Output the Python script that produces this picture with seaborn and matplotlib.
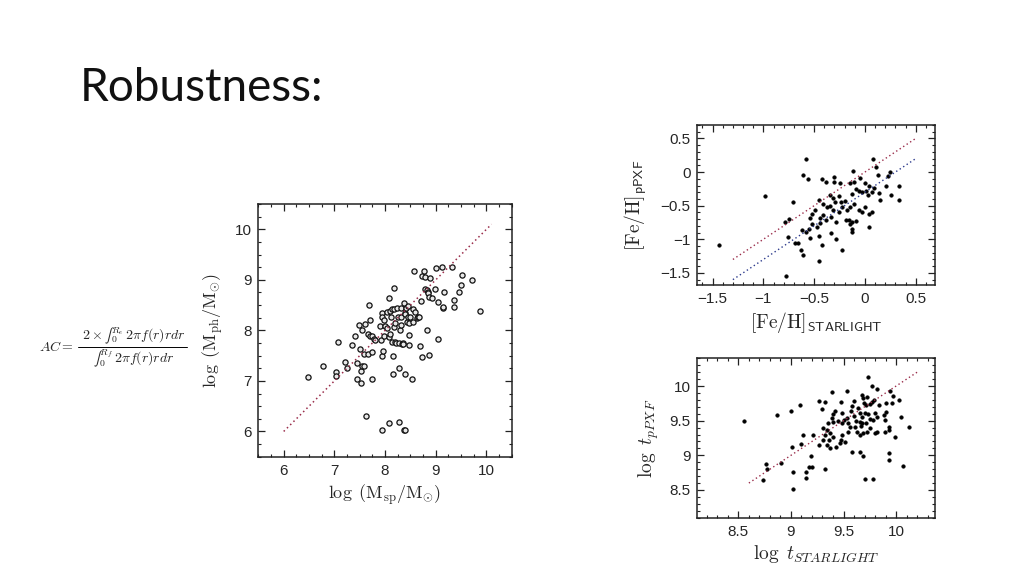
import numpy as np
import pandas as pd
import matplotlib
matplotlib.use("Agg")
import matplotlib.pyplot as plt
from matplotlib.lines import Line2D
from matplotlib.ticker import MultipleLocator
import seaborn as sns

# 왼쪽 패널: 광도(photometric) vs 분광(spectroscopic) 질량
msp = [6.47, 6.78, 7.03, 7.03, 7.08, 7.21, 7.24, 7.34, 7.40, 7.44, 7.44, 7.49, 7.50, 7.52,
       7.53, 7.54, 7.55, 7.58, 7.59, 7.61, 7.66, 7.67, 7.69, 7.70, 7.71, 7.74, 7.74, 7.75,
       7.78, 7.81, 7.63, 7.90, 7.91, 7.93, 7.94, 7.94, 7.95, 7.98, 7.98, 8.00, 8.03, 8.04,
       8.07, 8.08, 8.09, 8.10, 8.12, 8.13, 8.14, 8.15, 8.15, 8.17, 8.18, 8.17, 8.19, 8.20,
       8.21, 8.23, 8.25, 8.27, 8.28, 8.29, 8.31, 8.31, 8.32, 8.34, 8.35, 8.36, 8.37, 8.39,
       8.39, 8.40, 8.42, 8.44, 8.45, 8.46, 8.47, 8.48, 8.48, 8.49, 8.54, 8.56, 8.56, 8.57,
       8.59, 8.62, 8.64, 8.66, 8.69, 8.71, 8.72, 8.73, 8.76, 8.78, 8.79, 8.82, 8.82, 8.84,
       8.85, 8.87, 8.87, 8.89, 8.93, 8.98, 9.00, 9.04, 9.04, 9.13, 9.14, 9.14, 9.17, 9.33,
       9.35, 9.36, 9.46, 9.50, 9.51, 9.72, 9.88, 7.93, 8.08, 8.27, 8.37, 8.39]
mph = [7.07, 7.30, 7.17, 7.10, 7.76, 7.37, 7.25, 7.71, 7.88, 7.36, 7.04, 8.10, 7.63, 7.19,
       6.96, 8.01, 7.29, 7.30, 7.54, 8.13, 7.53, 7.93, 8.50, 7.88, 8.20, 7.04, 7.58, 7.88,
       7.83, 7.80, 6.30, 8.08, 7.80, 7.50, 8.35, 8.27, 7.59, 7.88, 8.21, 8.08, 8.37, 8.05,
       7.86, 8.64, 7.93, 8.38, 8.27, 8.43, 7.77, 7.50, 7.13, 8.83, 8.43, 8.06, 7.77, 8.14,
       7.75, 8.44, 8.27, 7.25, 7.75, 8.01, 8.45, 8.11, 8.27, 7.73, 7.75, 7.74, 8.55, 8.35,
       8.33, 7.13, 8.44, 8.16, 8.27, 8.49, 7.90, 8.14, 7.71, 8.27, 7.04, 8.17, 8.43, 9.18,
       8.37, 8.24, 8.26, 8.26, 7.69, 8.58, 7.48, 9.08, 9.18, 8.82, 9.05, 8.01, 8.79, 8.76,
       8.73, 8.67, 7.52, 9.03, 8.64, 8.82, 9.24, 8.57, 7.83, 9.25, 8.44, 8.47, 8.75, 9.25,
       8.60, 8.47, 8.75, 8.90, 9.10, 8.99, 8.39, 6.02, 6.16, 6.18, 6.02, 6.02]
mass_line = [6.0, 10.1]

# 오른쪽 위: [Fe/H] STARLIGHT vs pPXF
feh_sl = [-1.44, -0.98, -0.78, -0.58, 0.08, 0.11,
          -0.61, -0.557, -0.426, -0.383, -0.305, -0.305, -0.246, -0.121, -0.148, -0.11,
          -0.05, 0.00, 0.04, 0.124, 0.23, 0.25, 0.336, 0.336, -0.71, -0.45, -0.344, -0.31,
          -0.29, -0.26, -0.24, -0.20, -0.13, -0.085, -0.06, -0.03, 0.01, 0.03, 0.07, 0.09,
          0.14, 0.15, 0.21, 0.26, -0.416, -0.377, -0.34, -0.31, -0.26, -0.23, -0.18, -0.15,
          -0.11, -0.06, -0.03, 0.00, 0.04, 0.07, -0.52, -0.49, -0.54, -0.44, -0.41, -0.38,
          -0.33, -0.28, -0.19, -0.16, -0.13, -0.09, -0.15, -0.13, 0.04, -0.79, -0.75, -0.76,
          -0.69, -0.66, -0.62, -0.58, -0.55, -0.52, -0.47, -0.44, -0.54, -0.45, -0.42, -0.33,
          -0.28, -0.23, -0.13, -0.63, -0.61, -0.45]
feh_ppxf = [-1.09, -0.36, -1.55, 0.20, 0.20, 0.08,
            -0.04, -0.11, -0.106, -0.146, -0.07, -0.146, -0.17, 0.018, -0.17, -0.146,
            -0.095, -0.17, -0.21, -0.046, -0.06, 0.00, -0.21, -0.42, -0.44, -0.41, -0.344, -0.38,
            -0.44, -0.36, -0.44, -0.43, -0.33, -0.25, -0.28, -0.30, -0.28, -0.34, -0.30, -0.24,
            -0.31, -0.42, -0.21, -0.34, -0.47, -0.52, -0.50, -0.57, -0.60, -0.52, -0.57, -0.52,
            -0.47, -0.56, -0.60, -0.52, -0.62, -0.60, -0.62, -0.57, -0.69, -0.69, -0.64, -0.72,
            -0.67, -0.74, -0.72, -0.71, -0.74, -0.73, -0.77, -0.84, -0.82, -0.74, -0.70, -0.97,
            -1.05, -1.05, -0.86, -0.89, -0.84, -0.78, -0.81, -0.76, -0.98, -0.95, -1.08, -0.91,
            -1.00, -1.16, -0.89, -1.16, -1.24, -1.32]
feh_line = [-1.3, 0.5]
feh_offset = -0.3

# 오른쪽 아래: log 나이
age_sl = [8.55, 8.73, 8.76, 8.77, 8.87, 9.02,
          9.731, 9.769, 9.817, 9.944, 9.395, 9.531, 9.674, 9.684, 9.728, 9.769, 9.791, 9.753,
          9.715, 9.690, 9.642, 9.601, 9.579, 9.975, 10.032, 9.842, 9.905, 9.959, 8.998, 9.087,
          9.271, 9.325, 9.300, 9.474, 9.420, 9.404, 9.389, 9.484, 9.531, 9.569, 9.595, 9.658,
          9.674, 9.706, 9.737, 9.801, 9.817, 9.753, 9.785, 9.905, 9.887, 9.896, 9.620, 9.652,
          9.674, 9.665, 9.715, 9.753, 9.801, 9.817, 9.357, 9.404, 9.443, 9.484, 9.500, 9.541,
          9.563, 9.547, 9.610, 9.626, 9.658, 9.684, 9.728, 9.896, 9.928, 9.937, 9.991, 10.048,
          10.118, 9.303, 9.341, 9.373, 9.404, 9.325, 9.303, 9.366, 9.347, 9.373, 9.430, 9.474,
          9.462, 9.515, 9.484, 9.119, 9.271, 9.214, 9.094, 9.008, 8.903, 9.189, 9.176, 9.198,
          9.325, 9.018, 9.144, 9.144, 9.579, 9.658, 9.684, 9.928, 9.928, 10.070, 9.706, 9.785]
age_ppxf = [9.50, 8.64, 8.88, 8.80, 9.58, 8.51,
            10.135, 10.005, 9.957, 9.933, 9.918, 9.933, 9.870, 9.822, 9.846, 9.774, 9.798, 9.741,
            9.726, 9.750, 9.678, 9.789, 9.712, 9.856, 9.798, 9.726, 9.760, 9.760, 9.640, 9.726,
            9.789, 9.774, 9.664, 9.765, 9.645, 9.596, 9.534, 9.606, 9.534, 9.645, 9.567, 9.616,
            9.558, 9.606, 9.596, 9.616, 9.558, 9.519, 9.510, 9.630, 9.582, 9.510, 9.500, 9.486,
            9.462, 9.423, 9.471, 9.390, 9.318, 9.342, 9.471, 9.486, 9.500, 9.471, 9.510, 9.462,
            9.414, 9.342, 9.414, 9.342, 9.294, 9.318, 9.342, 9.342, 9.366, 9.404, 9.270, 9.558,
            9.404, 9.390, 9.366, 9.318, 9.270, 9.294, 9.221, 9.221, 9.149, 9.101, 9.116, 9.221,
            9.173, 9.197, 9.294, 9.294, 9.149, 9.294, 9.164, 9.116, 8.885, 8.991, 8.837, 8.837,
            8.798, 8.765, 8.765, 8.669, 9.053, 9.053, 8.991, 9.029, 8.933, 8.846, 8.654, 8.654]
age_line = [8.6, 10.2]

sns.set_style("ticks")
plt.rcParams['font.family'] = ['Liberation Sans', 'DejaVu Sans']
plt.rcParams['mathtext.fontset'] = 'cm'

fig = plt.figure(figsize=(10.24, 5.76), dpi=100)

fig.text(0.078, 0.825, "Robustness:", fontsize=33, family=['Lato', 'DejaVu Sans'],
         color='#111111')

# 집중도(AC) 수식
fig.text(0.0385, 0.398, r"$AC =$", fontsize=10, va='center', ha='left')
fig.text(0.1305, 0.418, "$2 \\times \u222b_0^{R_e}\\, 2\\pi f(r) r d r$",
         fontsize=10, va='center', ha='center')
fig.text(0.1305, 0.377, "$\u222b_0^{R_f}\\, 2\\pi f(r) r d r$",
         fontsize=10, va='center', ha='center')
fig.add_artist(Line2D([0.0765, 0.1825], [0.398, 0.398], lw=0.7, color='black',
                      transform=fig.transFigure))

ax1 = fig.add_axes([0.2523, 0.2071, 0.2475, 0.4387])
ax2 = fig.add_axes([0.681, 0.5052, 0.2321, 0.2778])
ax3 = fig.add_axes([0.681, 0.1012, 0.2321, 0.2767])

red = '#9a2c4a'
blue = '#2c3a8c'

# 왼쪽
sns.lineplot(x=mass_line, y=mass_line, ax=ax1, color=red, lw=1.1, linestyle=(0, (1, 2)))
sns.scatterplot(x=msp, y=mph, ax=ax1, s=14, facecolor='#e8e8e8', edgecolor='#111111',
                linewidth=0.9)
ax1.set_xlim(5.5, 10.5)
ax1.set_ylim(5.5, 10.5)
ax1.xaxis.set_major_locator(MultipleLocator(1))
ax1.yaxis.set_major_locator(MultipleLocator(1))
ax1.xaxis.set_minor_locator(MultipleLocator(0.25))
ax1.yaxis.set_minor_locator(MultipleLocator(0.25))
ax1.set_xlabel(r"$\log\ (\mathrm{M_{sp}/M_{\odot}})$", fontsize=13, labelpad=4)
ax1.set_ylabel(r"$\log\ (\mathrm{M_{ph}/M_{\odot}})$", fontsize=13, labelpad=6)

# 오른쪽 위
feh_line2 = [v + feh_offset for v in feh_line]
sns.lineplot(x=feh_line, y=feh_line, ax=ax2, color=red, lw=1.0, linestyle=(0, (1, 2)))
sns.lineplot(x=feh_line, y=feh_line2, ax=ax2, color=blue, lw=1.0, linestyle=(0, (1, 2)))
sns.scatterplot(x=feh_sl, y=feh_ppxf, ax=ax2, s=7, color='black', edgecolor='black',
                linewidth=0.3)
ax2.set_xlim(-1.65, 0.69)
ax2.set_ylim(-1.68, 0.70)
ax2.xaxis.set_major_locator(MultipleLocator(0.5))
ax2.yaxis.set_major_locator(MultipleLocator(0.5))
ax2.xaxis.set_minor_locator(MultipleLocator(0.1))
ax2.yaxis.set_minor_locator(MultipleLocator(0.1))
ax2.set_xlabel(r"$[\mathrm{Fe/H}]_{\mathsf{STARLIGHT}}$", fontsize=14, labelpad=3)
ax2.set_ylabel(r"$[\mathrm{Fe/H}]_{\mathsf{pPXF}}$", fontsize=14, labelpad=8)

# 오른쪽 아래
sns.lineplot(x=age_line, y=age_line, ax=ax3, color=red, lw=1.0, linestyle=(0, (1, 2)))
sns.scatterplot(x=age_sl, y=age_ppxf, ax=ax3, s=7, color='black', edgecolor='black',
                linewidth=0.3)
ax3.set_xlim(8.11, 10.37)
ax3.set_ylim(8.10, 10.40)
ax3.xaxis.set_major_locator(MultipleLocator(0.5))
ax3.yaxis.set_major_locator(MultipleLocator(0.5))
ax3.xaxis.set_minor_locator(MultipleLocator(0.1))
ax3.yaxis.set_minor_locator(MultipleLocator(0.1))
ax3.set_xlabel(r"$\log\ t_{\mathit{STARLIGHT}}$", fontsize=14, labelpad=3)
ax3.set_ylabel(r"$\log\ t_{\mathit{pPXF}}$", fontsize=14, labelpad=6)

for ax in (ax1, ax2, ax3):
    ax.xaxis.set_major_formatter(lambda v, p: f"{v:g}".replace('-', '\u2212'))
    ax.yaxis.set_major_formatter(lambda v, p: f"{v:g}".replace('-', '\u2212'))
    ax.tick_params(which='major', direction='in', top=True, right=True, length=5,
                   width=0.9, labelsize=11, pad=5, color='#222222')
    ax.tick_params(which='minor', direction='in', top=True, right=True, length=2.5,
                   width=0.8, color='#222222')
    for sp in ax.spines.values():
        sp.set_linewidth(1.1)
        sp.set_color('#222222')
    if ax.get_legend():
        ax.get_legend().remove()

fig.savefig("out.png", dpi=100)
